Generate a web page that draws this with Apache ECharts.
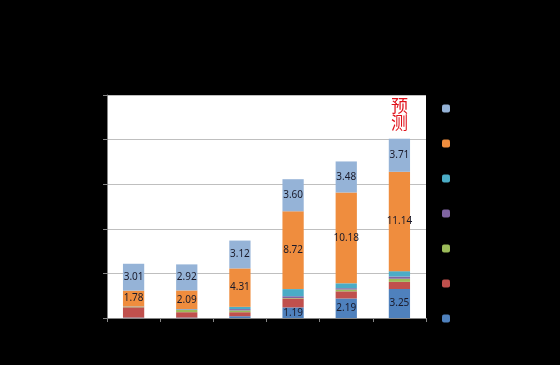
<!DOCTYPE html>
<html><head><meta charset="utf-8">
<script src="https://cdn.jsdelivr.net/npm/echarts@6/dist/echarts.min.js"></script>
<style>html,body{margin:0;padding:0;background:#000;}#c{width:560px;height:365px;}</style>
</head><body><div id="c"></div>
<script>
var categories = ['2012', '2013', '2014', '2015', '2016', '2017E'];
var yTicks = [0, 5, 10, 15, 20, 25];
var seriesNames = ['系列一', '系列二', '系列三', '系列四', '系列五', '系列六', '系列七'];
var s1 = [0.05, 0.05, 0.20, 1.19, 2.19, 3.25];
var s2 = [1.15, 0.60, 0.45, 1.00, 0.80, 0.80];
var s3 = [0.03, 0.25, 0.20, 0.05, 0.20, 0.35];
var s4 = [0.02, 0.05, 0.15, 0.20, 0.15, 0.25];
var s5 = [0.04, 0.05, 0.25, 0.80, 0.55, 0.60];
var s6 = [1.78, 2.09, 4.31, 8.72, 10.18, 11.14];
var s7 = [3.01, 2.92, 3.12, 3.60, 3.48, 3.71];
var labelIdx1 = [3, 4, 5];
var forecastText = '预\n测';

var colors = ['#4F81BD', '#C0504D', '#9BBB59', '#8064A2', '#4BACC6', '#EF8D3E', '#95B3D7'];
var allData = [s1, s2, s3, s4, s5, s6, s7];
var totals = categories.map(function (c, i) { return allData.reduce(function (a, s) { return a + s[i]; }, 0); });

var lbl = { show: true, position: 'inside', color: '#1a1a2a', fontSize: 10, fontFamily: 'Noto Sans', formatter: function (p) { return p.value.toFixed(2); } };

var series = allData.map(function (d, k) {
  var data = d.map(function (v, i) {
    var item = { value: v };
    if (k === 5 || k === 6 || (k === 0 && labelIdx1.indexOf(i) >= 0)) item.label = lbl;
    return item;
  });
  var s = {
    name: seriesNames[k], type: 'bar', stack: 'all', barWidth: '40%',
    itemStyle: { color: colors[k] }, label: { show: false }, data: data, animation: false
  };
  if (k === 6) {
    s.markPoint = {
      symbol: 'rect', symbolSize: 0, animation: false,
      data: [{ coord: [categories.length - 1, totals[totals.length - 1]],
        label: { show: true, position: 'top', distance: 8, formatter: forecastText, color: '#E0101A',
                 fontSize: 17, lineHeight: 17, fontFamily: 'Noto Sans CJK SC', fontWeight: 'normal' } }]
    };
  }
  return s;
});

var chart = echarts.init(document.getElementById('c'));
chart.setOption({
  backgroundColor: '#000',
  animation: false,
  grid: { left: 107, right: 134, top: 95, bottom: 47, show: true, backgroundColor: '#fff', borderWidth: 0 },
  legend: {
    orient: 'vertical', left: 437, top: 99, itemWidth: 8, itemHeight: 8, itemGap: 26,
    data: seriesNames.slice().reverse(),
    textStyle: { color: '#000', fontSize: 9, lineHeight: 8 },
    selectedMode: false
  },
  xAxis: {
    type: 'category', data: categories,
    axisLine: { lineStyle: { color: '#868686' } },
    axisTick: { show: true, length: 4, lineStyle: { color: '#868686' } },
    axisLabel: { color: '#000', fontSize: 10 }
  },
  yAxis: {
    type: 'value', min: yTicks[0], max: yTicks[yTicks.length - 1], interval: 5,
    axisLine: { show: true, lineStyle: { color: '#868686' } },
    axisTick: { show: true, length: 4, lineStyle: { color: '#868686' } },
    axisLabel: { color: '#000', fontSize: 10 },
    splitLine: { lineStyle: { color: '#BFBFBF' } }
  },
  series: series
});
</script></body></html>
